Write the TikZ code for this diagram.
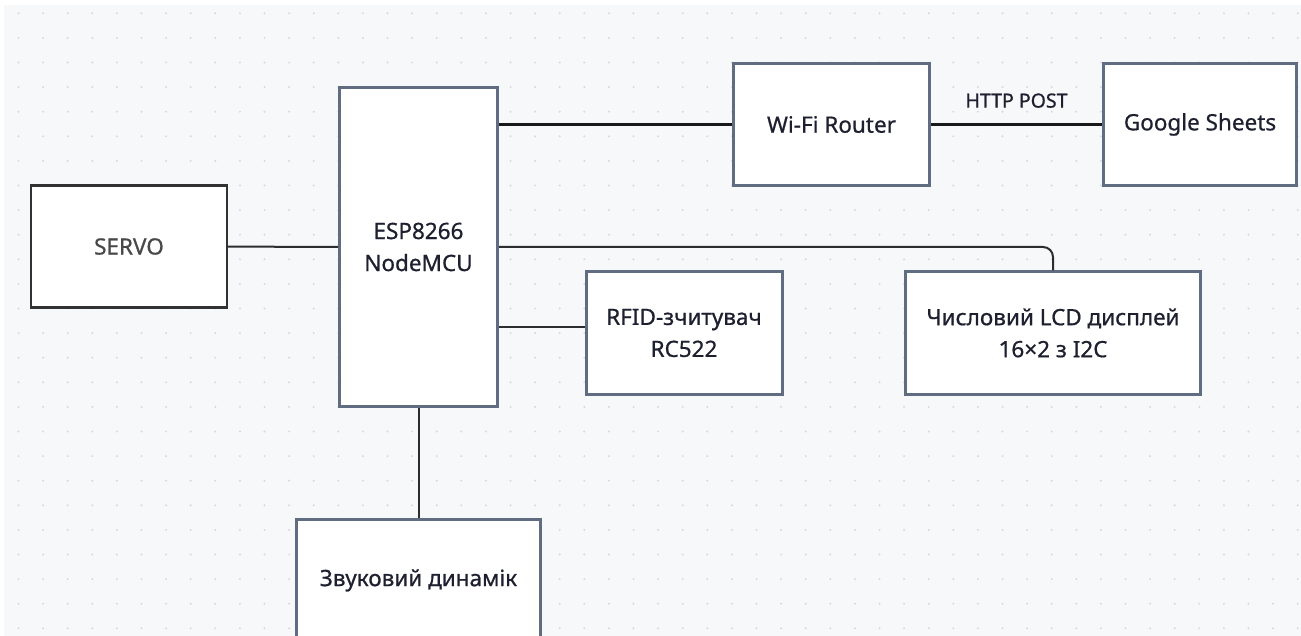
\documentclass[tikz,border=0pt]{standalone}
\usepackage{fontspec}
\setmainfont{Noto Sans}
\newfontfamily\blockfont{Noto Sans}[FakeBold=0.7]
\usetikzlibrary{positioning}
\definecolor{frame}{RGB}{96,108,128}
\definecolor{servoframe}{RGB}{50,50,50}
\definecolor{wirecol}{RGB}{45,45,45}
\definecolor{ink}{RGB}{30,32,48}
\definecolor{servoink}{RGB}{72,72,72}
\definecolor{canvas}{RGB}{247,248,250}
\definecolor{griddot}{RGB}{214,217,224}

\begin{document}
\begin{tikzpicture}[x=1pt,y=-1pt,
  block/.style={rectangle,draw=frame,fill=white,line width=3pt,text=ink,
                font=\blockfont\fontsize{22.5}{32}\selectfont,align=center,inner sep=0pt,
                minimum width=196pt,minimum height=122pt},
  servobox/.style={block,draw=servoframe,line width=2.4pt,text=servoink},
  bus/.style={black!90,line width=3.4pt},
  wire/.style={wirecol,line width=2pt},
  buslabel/.style={text=ink,font=\blockfont\fontsize{19.5}{24}\selectfont,inner sep=0pt}
]
\useasboundingbox (0,0) rectangle (1301,636);
% canvas with dotted grid
\fill[canvas] (4,5) rectangle (1301,636);
\foreach \i in {0,...,52}
  \foreach \j in {0,...,25}
    \fill[griddot] (18.5+24.6*\i,13.3+24.6*\j) circle (1.1);

% blocks
\node[servobox]                    (servo) at (129,246.5)  {SERVO};
\node[block,minimum width=158pt,
            minimum height=319pt]  (esp)   at (418.5,247)  {ESP8266\\NodeMCU};
\node[block]                       (wifi)  at (831.5,124.5) {Wi-Fi Router};
\node[block,minimum width=193pt]   (gs)    at (1200,124.5) {Google Sheets};
\node[block]                       (rfid)  at (684,333)    {RFID-зчитувач\\RC522};
\node[block,minimum width=295pt]   (lcd)   at (1053,333)   {Числовий LCD дисплей\\16×2 з I2C};
\node[block,minimum width=244pt]   (spk)   at (418.5,580.5) {Звуковий динамік};
\coordinate (rfidin) at ([yshift=6pt]rfid.west);

% connections
\draw[bus]  (esp.east |- wifi.west) -- (wifi.west);
\draw[bus]  (wifi) -- (gs) node[buslabel,midway,above=15pt] {HTTP POST};
\draw[wire] (servo) -- (esp);
\draw[wire,rounded corners=10pt] (esp.east) -| (lcd.north);
\draw[wire] (rfidin -| esp.east) -- (rfidin);
\draw[wire] (esp) -- (spk);
\end{tikzpicture}
\end{document}
